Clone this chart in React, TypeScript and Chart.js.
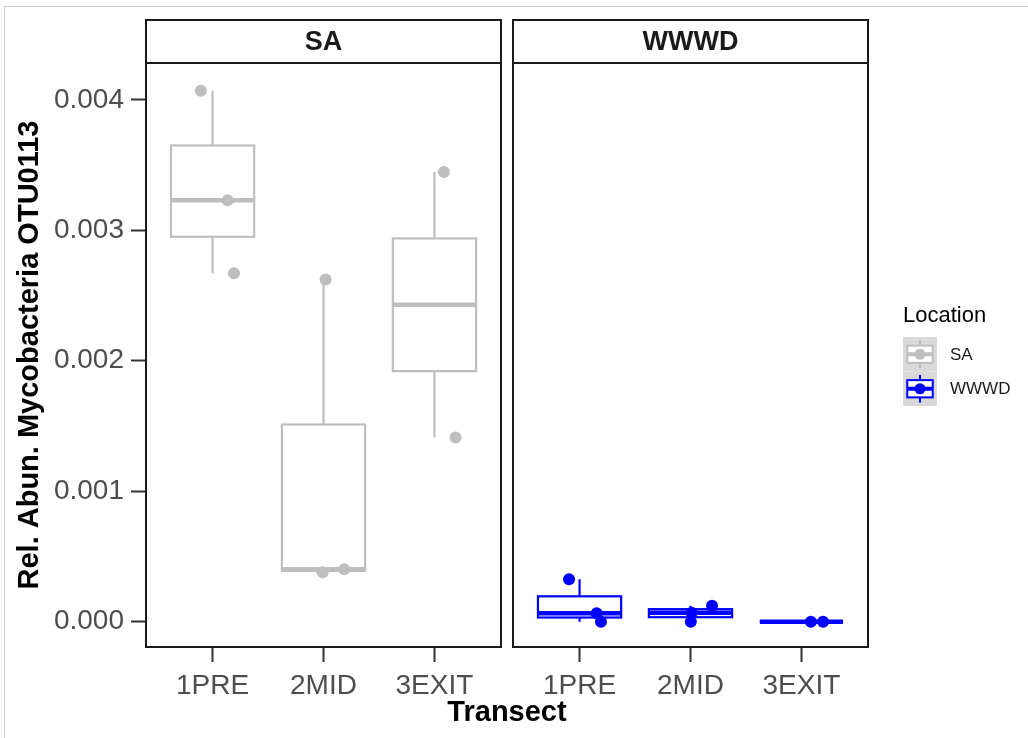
import React, { useEffect, useRef } from "react";
import { Chart, registerables } from "chart.js";
Chart.register(...registerables);

// ---- data ----
const categories = ["1PRE", "2MID", "3EXIT"];
const panels = ["SA", "WWWD"];
const saValues = [
  [0.00407, 0.00323, 0.00267],
  [0.000378, 0.000401, 0.002622],
  [0.003446, 0.001412],
];
const saJitter = [
  [-0.105, 0.136, 0.193],
  [-0.008, 0.187, 0.019],
  [0.085, 0.19],
];
const wwwdValues = [
  [0.000325, 0.000064, 0],
  [0.000069, 0.000123, 0],
  [0, 0],
];
const wwwdJitter = [
  [-0.095, 0.154, 0.193],
  [0.01, 0.194, 0.003],
  [0.085, 0.195],
];
const yTicks = [0, 0.001, 0.002, 0.003, 0.004];
const yMin = -0.000194;
const yMax = 0.004282;
const xMin = 0.4;
const xMax = 3.6;
const panelColors = ["#bebebe", "#0000ff"];
const legendTitle = "Location";
const xTitle = "Transect";
const yTitle = "Rel. Abun. Mycobacteria OTU0113";

const FONT = "'Liberation Sans', Arial, Helvetica, sans-serif";

function quant(s: number[], p: number) {
  const h = (s.length - 1) * p;
  const lo = Math.floor(h);
  const hi = Math.ceil(h);
  return s[lo] + (h - lo) * (s[hi] - s[lo]);
}

function stats(vals: number[]) {
  const s = [...vals].sort((a, b) => a - b);
  const q1 = quant(s, 0.25);
  const med = quant(s, 0.5);
  const q3 = quant(s, 0.75);
  const iqr = q3 - q1;
  const lo = Math.min(...s.filter((v) => v >= q1 - 1.5 * iqr));
  const hi = Math.max(...s.filter((v) => v <= q3 + 1.5 * iqr));
  return { q1, med, q3, lo, hi };
}

function drawKey(ctx: CanvasRenderingContext2D, x: number, y: number, w: number, h: number, color: string) {
  ctx.fillStyle = "#d9d9d9";
  ctx.fillRect(x, y, w, h);
  const cx = x + w / 2;
  ctx.strokeStyle = color;
  ctx.lineWidth = 2;
  ctx.beginPath();
  ctx.moveTo(cx, y + h * 0.1);
  ctx.lineTo(cx, y + h * 0.25);
  ctx.moveTo(cx, y + h * 0.75);
  ctx.lineTo(cx, y + h * 0.9);
  ctx.stroke();
  ctx.fillStyle = "#ffffff";
  ctx.fillRect(x + w * 0.125, y + h * 0.25, w * 0.75, h * 0.5);
  ctx.strokeRect(x + w * 0.125, y + h * 0.25, w * 0.75, h * 0.5);
  ctx.lineWidth = 4;
  ctx.beginPath();
  ctx.moveTo(x + w * 0.125, y + h * 0.5);
  ctx.lineTo(x + w * 0.875, y + h * 0.5);
  ctx.stroke();
  ctx.fillStyle = color;
  ctx.beginPath();
  ctx.arc(cx, y + h * 0.5, 5.5, 0, Math.PI * 2);
  ctx.fill();
}

function makeConfig(pi: number): any {
  const values = pi === 0 ? saValues : wwwdValues;
  const jitter = pi === 0 ? saJitter : wwwdJitter;
  const color = panelColors[pi];
  const isLeft = pi === 0;
  const points = values.flatMap((vals, i) =>
    vals.map((v, j) => ({ x: i + 1 + jitter[i][j], y: v }))
  );

  const boxPlugin = {
    id: "boxes" + pi,
    beforeDatasetsDraw(chart: any) {
      const { ctx } = chart;
      const xs = chart.scales.x;
      const ys = chart.scales.y;
      ctx.save();
      ctx.strokeStyle = color;
      values.forEach((vals, i) => {
        const st = stats(vals);
        const cx = xs.getPixelForValue(i + 1);
        const xl = xs.getPixelForValue(i + 1 - 0.375);
        const xr = xs.getPixelForValue(i + 1 + 0.375);
        const yq1 = ys.getPixelForValue(st.q1);
        const yq3 = ys.getPixelForValue(st.q3);
        const ymed = ys.getPixelForValue(st.med);
        const ylo = ys.getPixelForValue(st.lo);
        const yhi = ys.getPixelForValue(st.hi);
        ctx.lineWidth = 2.2;
        ctx.beginPath();
        ctx.moveTo(cx, yq3);
        ctx.lineTo(cx, yhi);
        ctx.moveTo(cx, yq1);
        ctx.lineTo(cx, ylo);
        ctx.stroke();
        ctx.fillStyle = "#ffffff";
        ctx.fillRect(xl, yq3, xr - xl, yq1 - yq3);
        ctx.strokeRect(xl, yq3, xr - xl, yq1 - yq3);
        ctx.lineWidth = 4.5;
        ctx.beginPath();
        ctx.moveTo(xl, ymed);
        ctx.lineTo(xr, ymed);
        ctx.stroke();
      });
      ctx.restore();
    },
    afterDraw(chart: any) {
      const { ctx, chartArea } = chart;
      ctx.save();
      // panel border
      ctx.strokeStyle = "#1a1a1a";
      ctx.lineWidth = 2;
      ctx.strokeRect(chartArea.left, chartArea.top, chartArea.right - chartArea.left, chartArea.bottom - chartArea.top);
      // strip
      ctx.fillStyle = "#ffffff";
      ctx.fillRect(chartArea.left, 20, chartArea.right - chartArea.left, chartArea.top - 20);
      ctx.strokeRect(chartArea.left, 20, chartArea.right - chartArea.left, chartArea.top - 20);
      ctx.fillStyle = "#1a1a1a";
      ctx.font = "bold 27px " + FONT;
      ctx.textAlign = "center";
      ctx.textBaseline = "middle";
      ctx.fillText(panels[pi], (chartArea.left + chartArea.right) / 2, (20 + chartArea.top) / 2 + 1);
      if (isLeft) {
        ctx.fillStyle = "#000000";
        ctx.font = "bold 29px " + FONT;
        ctx.fillText(xTitle, 507, 713);
      } else {
        // legend
        ctx.textAlign = "left";
        ctx.fillStyle = "#000000";
        ctx.font = "22px " + FONT;
        ctx.fillText(legendTitle, 903, 316);
        ctx.font = "17px " + FONT;
        panels.forEach((p, k) => {
          drawKey(ctx, 903, 337 + k * 34.5, 34, 34.5, panelColors[k]);
          ctx.fillStyle = "#1a1a1a";
          ctx.fillText(p, 950, 355 + k * 34.5);
        });
      }
      ctx.restore();
    },
  };

  return {
    type: "scatter",
    data: {
      datasets: [
        {
          data: points,
          backgroundColor: color,
          borderWidth: 0,
          pointRadius: 6,
          pointHoverRadius: 6,
        },
      ],
    },
    options: {
      responsive: false,
      animation: false,
      devicePixelRatio: 1,
      events: [],
      layout: {
        padding: isLeft
          ? { left: 0, top: 63, right: 527, bottom: 0 }
          : { left: 513, top: 63, right: 160, bottom: 0 },
      },
      plugins: { legend: { display: false }, tooltip: { enabled: false } },
      scales: {
        x: {
          type: "linear",
          min: xMin,
          max: xMax,
          afterBuildTicks: (s: any) => {
            s.ticks = categories.map((_, i) => ({ value: i + 1 }));
          },
          afterFit: (s: any) => {
            s.height = 91;
            s.paddingLeft = 0;
            s.paddingRight = 0;
          },
          ticks: {
            autoSkip: false,
            maxRotation: 0,
            padding: 7,
            color: "#4d4d4d",
            font: { family: FONT, size: 28 },
            callback: (v: any) => categories[Math.round(v) - 1],
          },
          grid: {
            display: true,
            drawOnChartArea: false,
            drawTicks: true,
            tickLength: 15,
            tickColor: "#333333",
            tickWidth: 2,
          },
          border: { display: false },
        },
        y: {
          type: "linear",
          display: isLeft,
          min: yMin,
          max: yMax,
          afterBuildTicks: (s: any) => {
            s.ticks = yTicks.map((v) => ({ value: v }));
          },
          afterFit: (s: any) => {
            s.width = isLeft ? 146 : 0;
            s.paddingTop = 0;
            s.paddingBottom = 0;
          },
          ticks: {
            padding: 7,
            color: "#4d4d4d",
            font: { family: FONT, size: 28 },
            callback: (v: any) => Number(v).toFixed(3),
          },
          grid: {
            display: true,
            drawOnChartArea: false,
            drawTicks: true,
            tickLength: 15,
            tickColor: "#333333",
            tickWidth: 2,
          },
          border: { display: false },
          title: {
            display: true,
            text: yTitle,
            color: "#000000",
            font: { family: FONT, size: 29, weight: "bold" },
            padding: { top: 13, bottom: 0 },
          },
        },
      },
    },
    plugins: [boxPlugin],
  };
}

export default function App() {
  const refA = useRef<HTMLCanvasElement>(null);
  const refB = useRef<HTMLCanvasElement>(null);
  useEffect(() => {
    const a = new Chart(refA.current as HTMLCanvasElement, makeConfig(0));
    const b = new Chart(refB.current as HTMLCanvasElement, makeConfig(1));
    return () => {
      a.destroy();
      b.destroy();
    };
  }, []);
  return (
    <div style={{ position: "absolute", left: 0, top: 0, width: 1028, height: 738, background: "#ffffff", overflow: "hidden" }}>
      <div style={{ position: "absolute", left: 4, top: 6, right: 0, bottom: 0, borderTop: "1px solid #cfcfcf", borderLeft: "1px solid #cfcfcf" }} />
      <canvas ref={refA} width={1028} height={738} style={{ position: "absolute", left: 0, top: 0 }} />
      <canvas ref={refB} width={1028} height={738} style={{ position: "absolute", left: 0, top: 0 }} />
    </div>
  );
}
